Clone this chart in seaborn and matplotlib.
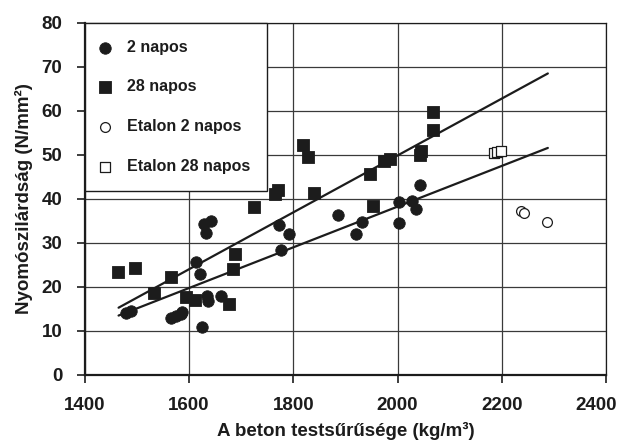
import numpy as np
import pandas as pd
import matplotlib
matplotlib.use('Agg')
import matplotlib.pyplot as plt
import matplotlib.transforms as mtransforms
import seaborn as sns

# 2 napos (2-day) samples: density, strength
x_2d = [1480, 1489, 1566, 1576, 1584, 1587, 1624, 1613, 1622, 1635, 1637, 1662,
        1628, 1643, 1632, 1772, 1792, 1777, 1886, 1931, 1920, 2002, 2003, 2027,
        2035, 2042]
y_2d = [14.1, 14.6, 12.9, 13.3, 13.8, 14.4, 10.8, 25.7, 23.0, 18.0, 16.9, 18.0,
        34.3, 34.9, 32.3, 34.0, 32.0, 28.3, 36.4, 34.8, 32.0, 39.4, 34.5, 39.6,
        37.6, 43.2]

# 28 napos (28-day) samples
x_28d = [1463, 1497, 1532, 1566, 1594, 1611, 1677, 1688, 1685, 1724, 1765, 1770,
         1819, 1828, 1839, 1947, 1953, 1973, 1985, 2043, 2044, 2067, 2067]
y_28d = [23.4, 24.2, 18.5, 22.2, 17.8, 17.1, 16.1, 27.4, 24.0, 38.1, 41.0, 42.1,
         52.3, 49.5, 41.4, 45.7, 38.4, 48.6, 49.1, 50.0, 51.0, 59.7, 55.7]

# reference (etalon) samples
x_et2 = [2237, 2242, 2286]
y_et2 = [37.2, 36.8, 34.7]
x_et28 = [2184, 2191, 2198]
y_et28 = [50.5, 50.7, 50.9]

# linear trend lines: slope, intercept
line_x = [1465, 2288]
fit_2d = [0.0463, -54.35]
fit_28d = [0.0647, -79.52]

sns.set_style('white')
plt.rcParams['font.family'] = ['Liberation Sans', 'DejaVu Sans']
plt.rcParams['font.weight'] = 'bold'

ink = '#1c1c1c'

fig, ax = plt.subplots(figsize=(6.18, 4.41), dpi=100)
fig.subplots_adjust(left=0.137, right=0.981, top=0.948, bottom=0.150)

ax.grid(True, color='#3a3a3a', linewidth=0.9, zorder=0)
ax.set_axisbelow(True)

sns.scatterplot(x=x_2d, y=y_2d, ax=ax, marker='o', s=68, color=ink,
                edgecolor=ink, linewidth=0.6, label='2 napos', zorder=3)
sns.scatterplot(x=x_28d, y=y_28d, ax=ax, marker='s', s=78, color=ink,
                edgecolor=ink, linewidth=0.6, label='28 napos', zorder=3)
sns.scatterplot(x=x_et2, y=y_et2, ax=ax, marker='o', s=50, color='white',
                edgecolor=ink, linewidth=0.9, label='Etalon 2 napos', zorder=3)
sns.scatterplot(x=x_et28, y=y_et28, ax=ax, marker='s', s=50, color='white',
                edgecolor=ink, linewidth=0.9, label='Etalon 28 napos', zorder=3)

lx = np.array(line_x)
sns.lineplot(x=lx, y=fit_2d[0] * lx + fit_2d[1], ax=ax, color=ink,
             linewidth=1.6, legend=False, zorder=2)
sns.lineplot(x=lx, y=fit_28d[0] * lx + fit_28d[1], ax=ax, color=ink,
             linewidth=1.6, legend=False, zorder=2)

ax.set_xlim(1400, 2400)
ax.set_ylim(0, 80)
ax.set_xticks(range(1400, 2401, 200))
ax.set_yticks(range(0, 81, 10))

for side in ['left', 'bottom', 'right', 'top']:
    ax.spines[side].set_color(ink)
    ax.spines[side].set_linewidth(0.9)
ax.spines['left'].set_linewidth(1.6)
ax.spines['bottom'].set_linewidth(1.6)

ax.tick_params(axis='both', direction='out', length=6, width=1.2, color=ink,
               labelsize=13.5, labelcolor=ink, pad=10, left=True, bottom=True)
for lab in ax.get_xticklabels() + ax.get_yticklabels():
    lab.set_fontweight('bold')

# keep the last x tick label inside the figure, as in the reference
last = ax.get_xticklabels()[-1]
last.set_transform(last.get_transform() +
                   mtransforms.ScaledTranslation(-0.10, 0, fig.dpi_scale_trans))

ax.set_xlabel('A beton testsűrűsége (kg/m³)', fontsize=13.5, fontweight='bold',
              color=ink, labelpad=6)
ax.set_ylabel('Nyomószilárdság (N/mm²)', fontsize=13.5, fontweight='bold',
              color=ink, labelpad=6)

leg = ax.legend(loc='upper left', bbox_to_anchor=(0, 1), borderaxespad=0,
                frameon=True, fancybox=False, framealpha=1, edgecolor=ink,
                fontsize=11.5, labelspacing=1.55, borderpad=1.05,
                handlelength=0.5, handletextpad=1.1)
leg.get_frame().set_linewidth(1.0)
for t in leg.get_texts():
    t.set_fontweight('bold')
    t.set_color(ink)

fig.savefig('out.png', dpi=100)
